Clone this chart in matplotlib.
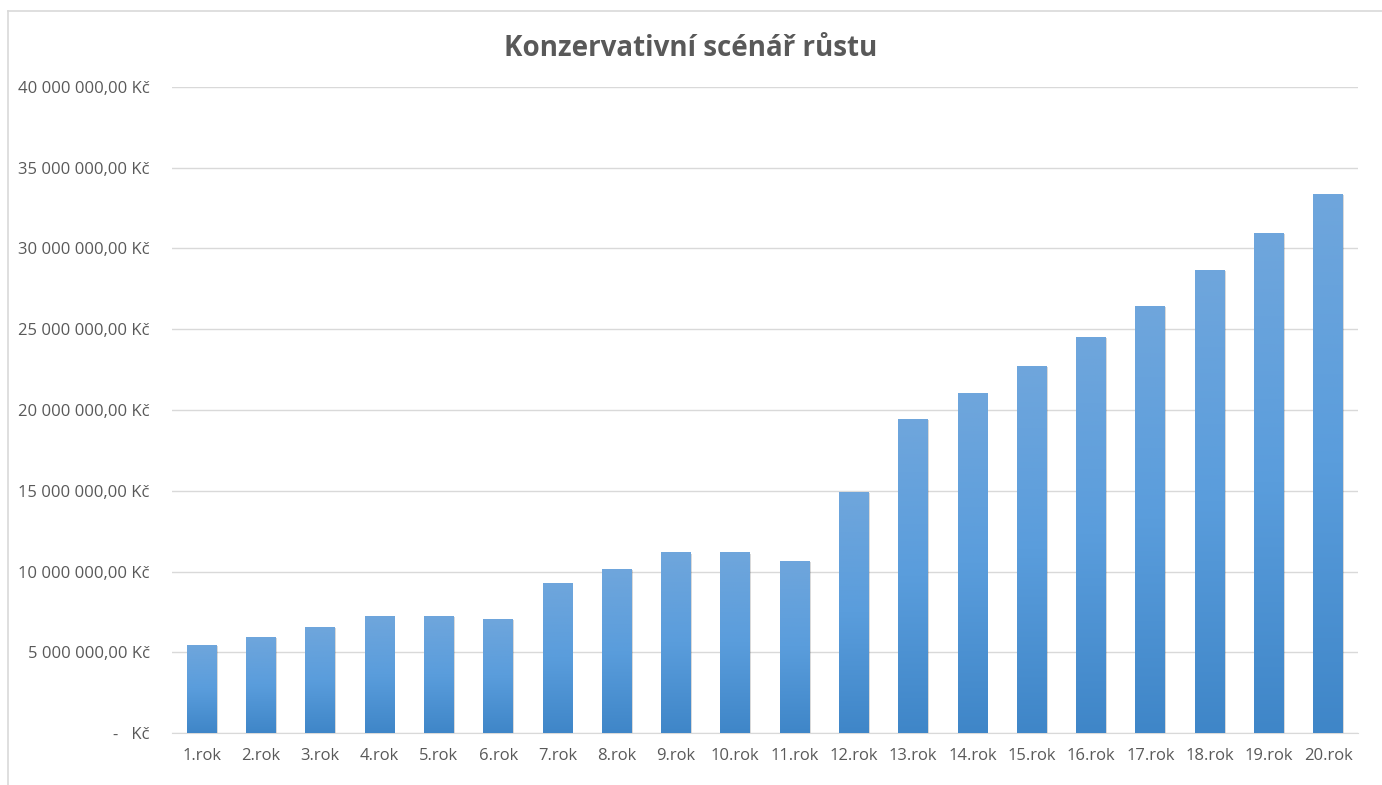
import matplotlib.pyplot as plt
import matplotlib.patheffects as pe
import numpy as np
from matplotlib.colors import LinearSegmentedColormap

years = [f"{i}.rok" for i in range(1, 21)]
values = [5.45, 5.95, 6.56, 7.24, 7.24, 7.06, 9.29, 10.15, 11.2, 11.2,
          10.65, 14.92, 19.44, 21.05, 22.72, 24.52, 26.44, 28.67, 30.96, 33.37]
values = [v * 1e6 for v in values]
y_ticks = [0, 5e6, 10e6, 15e6, 20e6, 25e6, 30e6, 35e6, 40e6]
title = "Konzervativní scénář růstu"

gray = "#595959"
plt.rcParams['font.family'] = ['Open Sans', 'DejaVu Sans']


def kc_format(v):
    if v == 0:
        return "-   Kč"
    s = f"{v:,.2f}".replace(",", " ").replace(".", ",")
    return s + " Kč"


fig = plt.figure(figsize=(13.82, 7.85), dpi=100)
ax = fig.add_axes([0.1245, 0.0662, 0.858, 0.823])

x = np.arange(len(years))
bars = ax.bar(x, values, width=0.5, color="#5b9bd5", zorder=2,
              path_effects=[pe.SimplePatchShadow(offset=(0.8, -1), shadow_rgbFace="#000000", alpha=0.15),
                            pe.Normal()])

# vertical gradient inside each bar
cmap = LinearSegmentedColormap.from_list("bluegrad", ["#3f86c8", "#5a9ddc", "#6fa6dc"])
grad = np.linspace(0, 1, 256).reshape(-1, 1)
for b in bars:
    x0, w, h = b.get_x(), b.get_width(), b.get_height()
    im = ax.imshow(grad, cmap=cmap, aspect="auto", origin="lower",
                   extent=[x0, x0 + w, 0, h], zorder=3)
    im.set_clip_path(b)

ax.set_xlim(-0.5, len(years) - 0.5)
ax.set_ylim(0, 40e6)
ax.set_yticks(y_ticks)
ax.set_yticklabels([kc_format(v) for v in y_ticks])
ax.set_xticks(x)
ax.set_xticklabels(years)
ax.tick_params(axis="both", length=0, colors=gray, labelsize=12)
ax.tick_params(axis="y", pad=16)
ax.tick_params(axis="x", pad=11)
ax.grid(axis="y", color="#d9d9d9", linewidth=1, zorder=0)
for s in ["top", "right", "left"]:
    ax.spines[s].set_visible(False)
ax.spines["bottom"].set_color("#d9d9d9")
ax.set_axisbelow(True)

fig.text(0.5, 1 - 48 / 785, title, ha="center", va="center",
         fontsize=20, fontweight="bold", color=gray)

# chart frame edges
fig.add_artist(plt.Line2D([8 / 1382, 8 / 1382], [0, 1 - 11 / 785], color="#d9d9d9", lw=1.2))
fig.add_artist(plt.Line2D([8 / 1382, 1], [1 - 11 / 785, 1 - 11 / 785], color="#d9d9d9", lw=1.2))

fig.savefig("out.png", dpi=100)
